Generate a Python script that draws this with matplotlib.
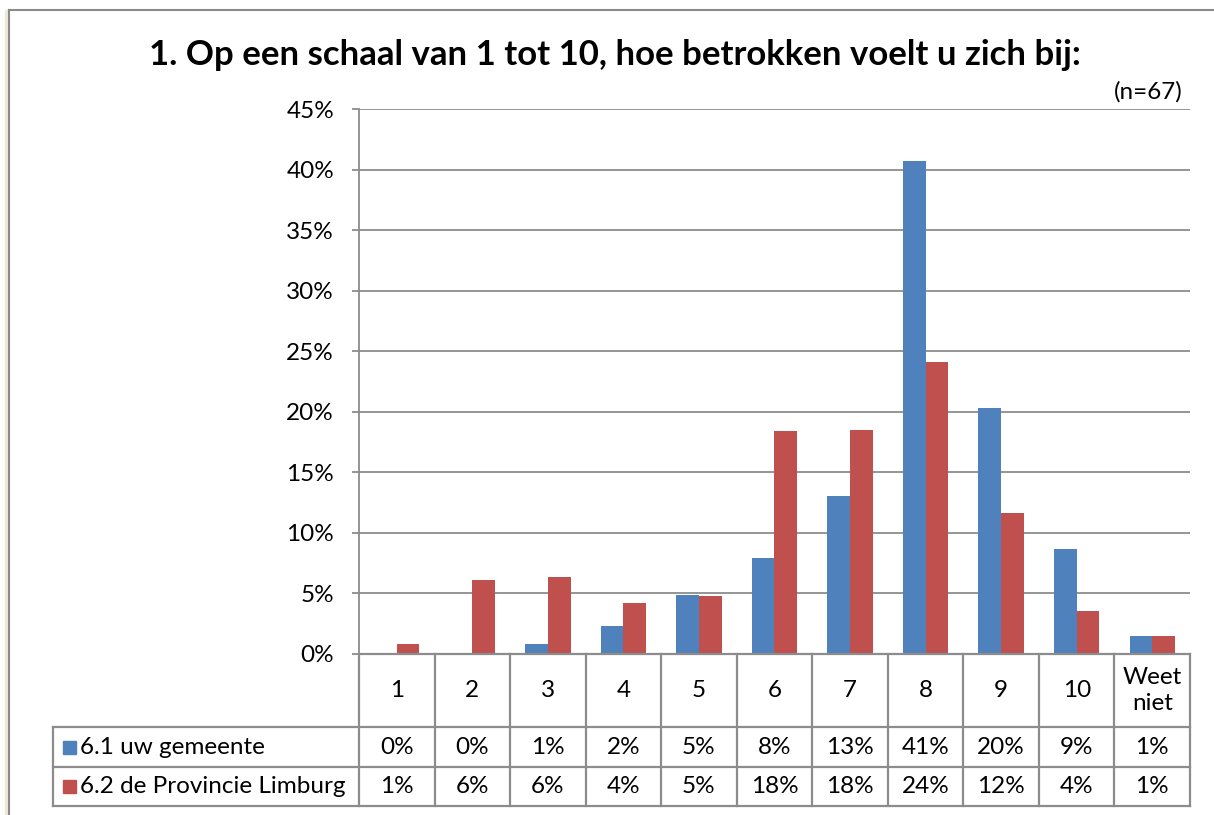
import matplotlib
matplotlib.use("Agg")
import matplotlib.pyplot as plt
from matplotlib.patches import Rectangle
import numpy as np

categories = ["1", "2", "3", "4", "5", "6", "7", "8", "9", "10", "Weet\nniet"]
series_names = ["6.1 uw gemeente", "6.2 de Provincie Limburg"]
gemeente = [0.0, 0.0, 0.85, 2.3, 4.85, 7.9, 13.05, 40.7, 20.3, 8.65, 1.5]
provincie = [0.8, 6.1, 6.35, 4.2, 4.8, 18.4, 18.5, 24.15, 11.65, 3.55, 1.5]
gemeente_labels = ["0%", "0%", "1%", "2%", "5%", "8%", "13%", "41%", "20%", "9%", "1%"]
provincie_labels = ["1%", "6%", "6%", "4%", "5%", "18%", "18%", "24%", "12%", "4%", "1%"]
yticks = [0, 5, 10, 15, 20, 25, 30, 35, 40, 45]
title = "1. Op een schaal van 1 tot 10, hoe betrokken voelt u zich bij:"
note = "(n=67)"

colors = ["#4F81BD", "#C0504D"]
grid_c = "#8C8C8C"
plt.rcParams['font.family'] = ['Lato', 'DejaVu Sans']
fs = 17.5

W, H = 1214, 815
fig = plt.figure(figsize=(W / 100, H / 100), dpi=100)
fig.patch.set_facecolor("white")

def fx(px):
    return px / W

def fy(py):
    return 1 - py / H

ax_l, ax_r, ax_t, ax_b = 359, 1190, 109, 654
ax = fig.add_axes([fx(ax_l), fy(ax_b), fx(ax_r - ax_l), (ax_b - ax_t) / H])

x = np.arange(len(categories))
bw = 0.3
ax.bar(x - bw / 2, gemeente, bw, color=colors[0], zorder=3)
ax.bar(x + bw / 2, provincie, bw, color=colors[1], zorder=3)

ax.set_xlim(-0.5, len(categories) - 0.5)
ax.set_ylim(0, 45)
ax.set_yticks(yticks)
ax.set_yticklabels([f"{t}%" for t in yticks], fontsize=fs)
ax.yaxis.grid(True, color=grid_c, linewidth=1.3, zorder=0)
ax.set_axisbelow(True)
ax.tick_params(axis="y", length=5, width=1.3, color=grid_c, pad=13)
ax.set_xticks([])
for s in ["top", "right", "bottom"]:
    ax.spines[s].set_visible(False)
ax.spines["left"].set_color(grid_c)
ax.spines["left"].set_linewidth(1.3)

# table in figure pixel coordinates
lw = 1.6
tab_c = "#8C8C8C"
row_y = [654, 727, 767, 806]
col_x = [ax_l + (ax_r - ax_l) * i / len(categories) for i in range(len(categories) + 1)]
leg_l = 53

def hline(y, x0, x1):
    fig.add_artist(plt.Line2D([fx(x0), fx(x1)], [fy(y), fy(y)], color=tab_c, lw=lw))

def vline(xp, y0, y1):
    fig.add_artist(plt.Line2D([fx(xp), fx(xp)], [fy(y0), fy(y1)], color=tab_c, lw=lw))

hline(row_y[1], leg_l, ax_r)
hline(row_y[2], leg_l, ax_r)
hline(row_y[3], leg_l, ax_r)
hline(row_y[0], ax_l, ax_r)
for xp in col_x:
    vline(xp, row_y[0], row_y[3])
vline(leg_l, row_y[1], row_y[3])

for i, cat in enumerate(categories):
    cx = (col_x[i] + col_x[i + 1]) / 2
    fig.text(fx(cx), fy((row_y[0] + row_y[1]) / 2), cat, ha="center", va="center",
             fontsize=fs, linespacing=1.25)
    fig.text(fx(cx), fy((row_y[1] + row_y[2]) / 2), gemeente_labels[i], ha="center",
             va="center", fontsize=fs)
    fig.text(fx(cx), fy((row_y[2] + row_y[3]) / 2), provincie_labels[i], ha="center",
             va="center", fontsize=fs)

for r, (name, c) in enumerate(zip(series_names, colors)):
    cy = (row_y[r + 1] + row_y[r + 2]) / 2
    fig.add_artist(Rectangle((fx(63), fy(cy + 6.5)), fx(13), 13 / H, color=c))
    fig.text(fx(80), fy(cy), name, ha="left", va="center", fontsize=fs)

fig.text(fx(615), fy(55), title, ha="center", va="center", fontsize=25, fontweight="bold")
fig.text(fx(1183), fy(92), note, ha="right", va="center", fontsize=fs)

# outer frame
fig.add_artist(plt.Line2D([fx(9), 1], [fy(10), fy(10)], color="#8A8A8A", lw=1.5))
fig.add_artist(plt.Line2D([fx(9), fx(9)], [fy(10), 0], color="#8A8A8A", lw=1.5))
fig.add_artist(Rectangle((fx(5), 0), fx(3), fy(10), color="#ECE9D8"))

fig.savefig("out.png", dpi=100)
